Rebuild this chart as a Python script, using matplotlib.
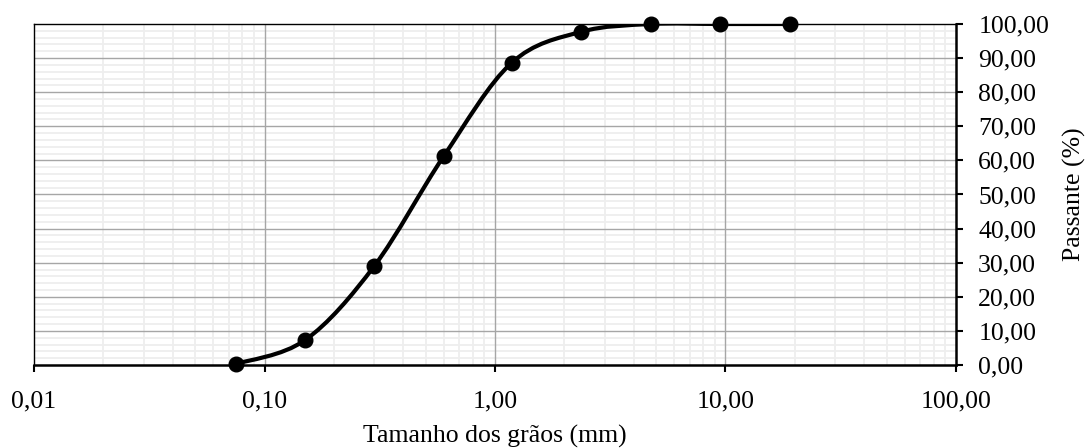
import numpy as np
import matplotlib
matplotlib.use("Agg")
import matplotlib.pyplot as plt
from matplotlib.path import Path
from matplotlib.patches import PathPatch
from matplotlib.ticker import FixedLocator, FuncFormatter, MultipleLocator

# Data
grain_size_mm = [0.075, 0.15, 0.30, 0.60, 1.18, 2.36, 4.75, 9.50, 19.0]
passing_pct = [0.3, 7.3, 29.1, 61.3, 88.6, 97.7, 100.0, 100.0, 100.0]
x_ticks = [0.01, 0.1, 1, 10, 100]
y_ticks = [0, 10, 20, 30, 40, 50, 60, 70, 80, 90, 100]
x_label = "Tamanho dos grãos (mm)"
y_label = "Passante (%)"

plt.rcParams['font.family'] = ['Liberation Serif', 'DejaVu Serif']
FS = 18.5

fig = plt.figure(figsize=(10.9, 4.48), dpi=100)
ax = fig.add_axes([34/1090, 1-365/448, (956-34)/1090, (365-24)/448])

ax.set_xscale('log')
ax.set_xlim(0.01, 100)
ax.set_ylim(0, 100)

# Smooth curve (Excel-like Catmull-Rom Bezier) in log-x space
lx = np.log10(np.array(grain_size_mm))
yy = np.array(passing_pct, dtype=float)
n = len(lx)
verts = [(10**lx[0], yy[0])]
codes = [Path.MOVETO]
for i in range(n - 1):
    i0 = max(i - 1, 0)
    i3 = min(i + 2, n - 1)
    c1x = lx[i] + (lx[i+1] - lx[i0]) / 6
    c1y = yy[i] + (yy[i+1] - yy[i0]) / 6
    c2x = lx[i+1] - (lx[i3] - lx[i]) / 6
    c2y = yy[i+1] - (yy[i3] - yy[i]) / 6
    verts += [(10**c1x, c1y), (10**c2x, c2y), (10**lx[i+1], yy[i+1])]
    codes += [Path.CURVE4] * 3
patch = PathPatch(Path(verts, codes), facecolor='none', edgecolor='black',
                  lw=3.0, transform=ax.transData, zorder=5, capstyle='round',
                  joinstyle='round')
ax.add_patch(patch)
ax.plot(grain_size_mm, passing_pct, linestyle='none', marker='o',
        markersize=10.5, color='black', zorder=6, clip_on=False)

# Grid
ax.xaxis.set_major_locator(FixedLocator(x_ticks))
minor_x = [m * d for d in [0.01, 0.1, 1, 10] for m in range(2, 10)]
ax.xaxis.set_minor_locator(FixedLocator(minor_x))
ax.yaxis.set_major_locator(FixedLocator(y_ticks))
ax.yaxis.set_minor_locator(MultipleLocator(2))
ax.grid(which='minor', color='#eeeeee', lw=1.3)
ax.grid(which='major', visible=False)
ax.set_axisbelow(True)
for xv in x_ticks[1:-1]:
    ax.axvline(xv, color='#a6a6a6', lw=1.0, zorder=2)
for yv in y_ticks[1:-1]:
    ax.axhline(yv, color='#a6a6a6', lw=1.0, zorder=2)

fmt = FuncFormatter(lambda v, p: f"{v:.2f}".replace('.', ','))
ax.xaxis.set_major_formatter(fmt)
ax.yaxis.set_major_formatter(fmt)
ax.xaxis.set_minor_formatter(FuncFormatter(lambda v, p: ''))

ax.yaxis.tick_right()
ax.yaxis.set_label_position('right')
ax.tick_params(which='major', direction='out', length=5, width=1.5,
               labelsize=FS, color='black')
ax.tick_params(axis='x', which='major', pad=13)
ax.tick_params(axis='y', which='major', pad=11)
ax.tick_params(which='minor', length=0)

for s in ['left', 'top']:
    ax.spines[s].set_linewidth(1.0)
    ax.spines[s].set_color('black')
for s in ['bottom', 'right']:
    ax.spines[s].set_linewidth(1.8)
    ax.spines[s].set_color('black')

ax.set_xlabel(x_label, fontsize=FS, labelpad=9)
ax.set_ylabel(y_label, fontsize=FS, labelpad=10)

fig.savefig('out.png', dpi=100)
